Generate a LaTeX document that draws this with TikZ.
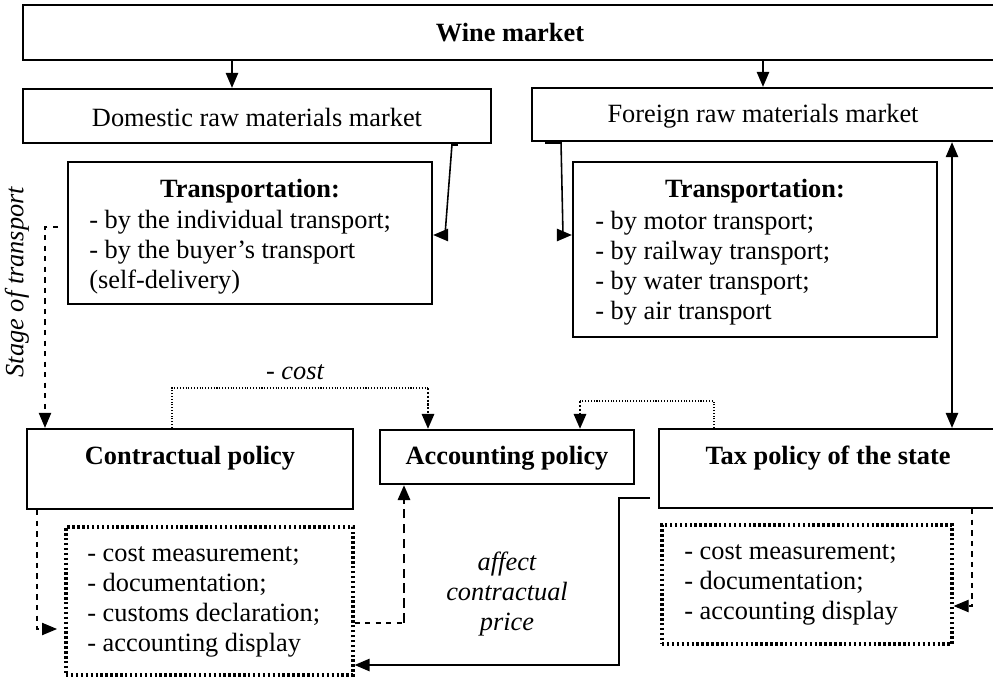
\documentclass[tikz,border=0pt]{standalone}
\usepackage{fontspec}
\setmainfont{Liberation Serif}
\usetikzlibrary{arrows.meta, positioning, fit}

\newcommand\chartfont{\fontsize{15}{17}\selectfont}

\begin{document}
\begin{tikzpicture}
  [x=0.02cm, y=-0.02cm, >={Triangle[length=8.5pt, width=7pt]},
   box/.style={draw, line width=1.3pt, inner sep=0pt},
   listbox/.style={draw, dash pattern=on 1.4pt off 1.4pt, line width=1.8pt, inner sep=0pt},
   head/.style={font=\chartfont\bfseries, inner sep=0pt},
   items/.style={font=\chartfont, align=left, anchor=west, inner sep=0pt},
   note/.style={font=\chartfont\itshape, align=center, inner sep=0pt},
   link/.style={line width=0.9pt},
   dotlink/.style={densely dotted, line width=0.6pt},
   dashlink/.style={dashed, line width=0.6pt}]
  \useasboundingbox (0,0) rectangle (993,680);

  % markets
  \node (wine) [box, fit={(23,5) (997,60)}] {};
  \node (winetxt) at (510,33) [head] {Wine market};
  \node (dom) [box, fit={(23,89) (491,143)}] {};
  \node (domtxt) at (257,117) [items, anchor=center] {Domestic raw materials market};
  \node (for) [box, fit={(532,88) (997,141)}] {};
  \node (fortxt) at (763,116) [items, anchor=center] {Foreign raw materials market};

  % transportation
  \node (domtr) [box, fit={(68,162) (432,304)}] {};
  \node (domtrhead) at (250,191) [head] {Transportation:};
  \node (domtrlist) at (89,252) [items] {- by the individual transport;\\
    - by the buyer's transport\\ (self-delivery)};
  \node (fortr) [box, fit={(573,162) (937,337)}] {};
  \node (fortrhead) at (755,191) [head] {Transportation:};
  \node (fortrlist) at (595,268) [items] {- by motor transport;\\
    - by railway transport;\\ - by water transport;\\ - by air transport};

  % policies
  \node (contract) [box, fit={(27,429) (353,509)}] {};
  \node (contracthead) at (190,458) [head] {Contractual policy};
  \node (acc) [box, fit={(380,430) (634,484)}] {};
  \node (acchead) at (507,458) [head] {Accounting policy};
  \node (tax) [box, fit={(659,429) (997,508)}] {};
  \node (taxhead) at (828,458) [head] {Tax policy of the state};

  % what the policies cover
  \node (contractlist) [listbox, fit={(66,527) (353,675)}] {};
  \node (contractitems) at (87,602) [items] {- cost measurement;\\
    - documentation;\\ - customs declaration;\\ - accounting display};
  \node (taxlist) [listbox, fit={(662,525) (952,644)}] {};
  \node (taxitems) at (684,585) [items] {- cost measurement;\\
    - documentation;\\ - accounting display};

  % captions
  \node (stage) at (17,282) [note, rotate=90] {Stage of transport};
  \node (cost) at (295,372) [note] {- cost};
  \node (affect) at (507,594) [note] {affect\\ contractual\\ price};

  % bend points
  \coordinate (w1) at (232,0);
  \coordinate (w2) at (763,0);
  \coordinate (d1) at (458,0);
  \coordinate (d2) at (452,0);
  \coordinate (d3) at (445,235);
  \coordinate (f1) at (545,0);
  \coordinate (f2) at (561,0);
  \coordinate (f3) at (563,235);
  \coordinate (t1) at (952,0);
  \coordinate (s1) at (58,227);
  \coordinate (s2) at (45,227);
  \coordinate (c1) at (172,388);
  \coordinate (c2) at (428,388);
  \coordinate (x1) at (714,401);
  \coordinate (x2) at (580,401);
  \coordinate (l1) at (37,629);
  \coordinate (l2) at (57,629);
  \coordinate (a1) at (404,623);
  \coordinate (p1) at (650,498);
  \coordinate (p2) at (619,498);
  \coordinate (p3) at (619,665);
  \coordinate (r1) at (972,606);

  % connectors
  \draw [->, link] (wine.south -| w1) -- (dom.north -| w1);
  \draw [->, link] (wine.south -| w2) -- (for.north -| w2);
  \draw [line width=2.5pt] (dom.south -| d1) -- (dom.south -| d2);
  \draw [->, link] (dom.south -| d2) -- (d3) -- (domtr.east |- d3);
  \draw [line width=2.5pt] (for.south -| f1) -- (for.south -| f2);
  \draw [->, link] (for.south -| f2) -- (f3) -- (fortr.west |- f3);
  \draw [<->, link] (for.south -| t1) -- (tax.north -| t1);
  \draw [->, dashlink] (s1) -- (s2) -- (contract.north -| s2);
  \draw [dotlink] (contract.north -| c1) -- (c1) -- (c2);
  \draw [->, densely dotted, line width=1.2pt] (c2) -- (acc.north -| c2);
  \draw [dotlink] (tax.north -| x1) -- (x1) -- (x2);
  \draw [->, densely dotted, line width=1.2pt] (x2) -- (acc.north -| x2);
  \draw [->, dashlink] (contract.south -| l1) -- (l1) -- (l2);
  \draw [dashlink] (contractlist.east |- a1) -- (a1);
  \draw [->, dash pattern=on 5.5pt off 3pt, line width=1.3pt] (a1) -- (acc.south -| a1);
  \draw [->, link] (p1) -- (p2) -- (p3) -- (contractlist.east |- p3);
  \draw [->, dashlink] (tax.south -| r1) -- (r1) -- (taxlist.east |- r1);
\end{tikzpicture}
\end{document}
